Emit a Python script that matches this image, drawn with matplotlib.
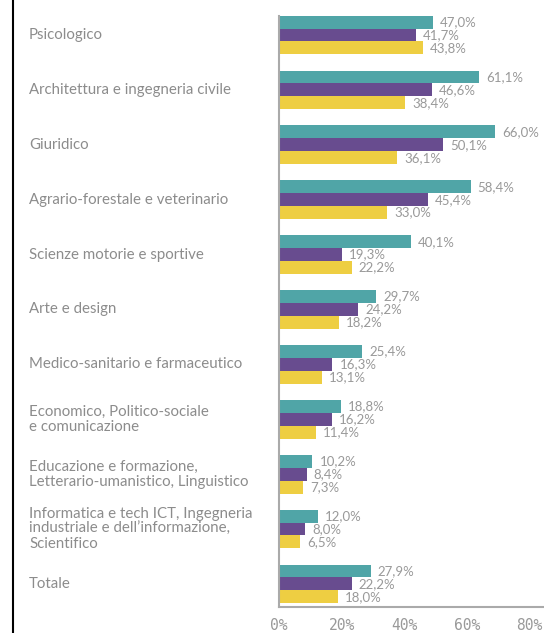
import numpy as np
import matplotlib.pyplot as plt
from matplotlib.lines import Line2D
from matplotlib.transforms import blended_transform_factory

categories = [
    "Psicologico",
    "Architettura e ingegneria civile",
    "Giuridico",
    "Agrario-forestale e veterinario",
    "Scienze motorie e sportive",
    "Arte e design",
    "Medico-sanitario e farmaceutico",
    "Economico, Politico-sociale\ne comunicazione",
    "Educazione e formazione,\nLetterario-umanistico, Linguistico",
    "Informatica e tech ICT, Ingegneria\nindustriale e dell\u2019informazione,\nScientifico",
    "Totale",
]
serie_a = [47.0, 61.1, 66.0, 58.4, 40.1, 29.7, 25.4, 18.8, 10.2, 12.0, 27.9]
serie_b = [41.7, 46.6, 50.1, 45.4, 19.3, 24.2, 16.3, 16.2, 8.4, 8.0, 22.2]
serie_c = [43.8, 38.4, 36.1, 33.0, 22.2, 18.2, 13.1, 11.4, 7.3, 6.5, 18.0]
tick_vals = [0, 20, 40, 60, 80]

colors = ["#50A5A7", "#684C8F", "#EECE42"]
grey_txt = "#999999"

plt.rcParams["font.family"] = ["Lato", "DejaVu Sans"]

fig = plt.figure(figsize=(5.44, 6.33), dpi=100)
ax = fig.add_axes([279 / 544, 26 / 633, 1 - 279 / 544, (607 - 16) / 633])

y = np.arange(len(categories))
h = 0.235
for k, (vals, col) in enumerate(zip([serie_a, serie_b, serie_c], colors)):
    bars = ax.barh(y + (k - 1) * h, vals, height=h, color=col)
    for b, v in zip(bars, vals):
        ax.annotate(f"{v:.1f}%".replace(".", ","),
                    (b.get_width(), b.get_y() + b.get_height() / 2),
                    xytext=(5, 0), textcoords="offset points",
                    ha="left", va="center", fontsize=9.5, color=grey_txt)

ax.set_xlim(0, 80.8)
ax.set_ylim(10.42, -0.346)
ax.set_yticks([])
ax.set_xticks([])
for s in ["top", "right"]:
    ax.spines[s].set_visible(False)
for s in ["left", "bottom"]:
    ax.spines[s].set_color("#aaaaaa")
    ax.spines[s].set_linewidth(1.5)

# category names, left aligned near the figure edge
trans = blended_transform_factory(fig.transFigure, ax.transData)
for yi, cat in zip(y, categories):
    ax.text(29 / 544, yi, cat, transform=trans, ha="left", va="center",
            fontsize=10.8, color="#8c8c8c", linespacing=1.1, clip_on=False)

# percentage scale below the bars
sec = ax.secondary_xaxis("bottom", functions=(lambda x: x / 0.955, lambda x: x * 0.955))
sec.set_xticks(tick_vals)
sec.set_xticklabels([f"{t}%" for t in tick_vals], family="DejaVu Sans Mono",
                    fontsize=10.5, color=grey_txt)
sec.tick_params(length=0, pad=8)
sec.spines["bottom"].set_visible(False)

fig.add_artist(Line2D([13 / 544, 13 / 544], [0, 1], color="black", lw=1.5,
                      transform=fig.transFigure))

fig.savefig("out.png", dpi=100)
